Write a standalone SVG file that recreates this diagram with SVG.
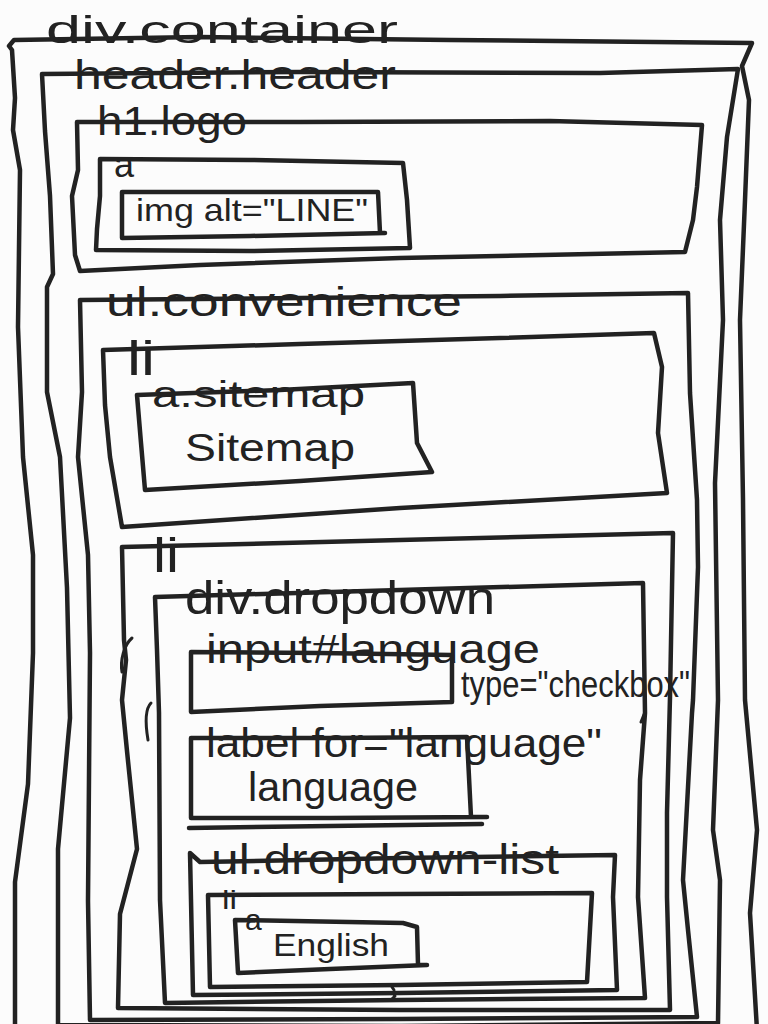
<svg xmlns="http://www.w3.org/2000/svg" width="768" height="1024" viewBox="0 0 768 1024">
  <style>
    .box { fill: none; stroke: #222; stroke-width: 4.5; stroke-linecap: round; stroke-linejoin: round; }
    .mark { fill: none; stroke: #222; stroke-width: 3; stroke-linecap: round; stroke-linejoin: round; }
    .lbl { font-family: "Liberation Sans", "DejaVu Sans", sans-serif; fill: #222; }
  </style>
  <rect x="0" y="0" width="768" height="1024" fill="#fcfcfc"/>

  <!-- div.container -->
  <g id="div-container">
    <path class="box" d="M15,1030 L15,882 L28,784 L33,653 L33,555 L23,457 L18,327 L20,170 L13,130 L15,98 L12,50 L9,46 L14,40 L200,37 L450,40 L752,43 L742,66 L749,100 L745,200 L740,320 L743,500 L745,700 L757,830 L750,913 L757,1030"/>
    <text class="lbl" x="46" y="43" font-size="38" textLength="352" lengthAdjust="spacingAndGlyphs">div.container</text>
  </g>

  <!-- header.header -->
  <g id="header">
    <path class="box" d="M58,1025 L58,849 L70,718 L67,588 L60,457 L47,392 L47,287 L53,274 L50,196 L45,131 L42,74 L300,72 L600,73 L738,69 L727,137 L720,220 L723,320 L715,483 L718,700 L713,830 L720,880 L718,1023 L400,1026 Z"/>
    <text class="lbl" x="74" y="89" font-size="40" textLength="322" lengthAdjust="spacingAndGlyphs">header.header</text>
  </g>

  <!-- h1.logo -->
  <g id="h1-logo">
    <path class="box" d="M77,122 L300,122 L550,121 L702,125 L697,187 L693,220 L685,252 L400,258 L200,265 L80,271 L75,255 L72,196 L78,170 Z"/>
    <text class="lbl" x="97" y="135" font-size="40" textLength="150" lengthAdjust="spacingAndGlyphs">h1.logo</text>
  </g>

  <!-- a (logo link) -->
  <g id="logo-link">
    <path class="box" d="M100,159 L250,160 L403,163 L407,200 L410,248 L250,251 L96,250 L97,229 L100,196 Z"/>
    <text class="lbl" x="114" y="177" font-size="36">a</text>
  </g>

  <!-- img alt="LINE" -->
  <g id="logo-img">
    <path class="box" d="M122,192 L250,192 L378,192 L380,233 L385,233 L250,236 L122,238 Z"/>
    <text class="lbl" x="136" y="221" font-size="32" textLength="232" lengthAdjust="spacingAndGlyphs">img alt="LINE"</text>
  </g>

  <!-- ul.convenience -->
  <g id="ul-convenience">
    <path class="box" d="M90,1020 L88,901 L90,653 L88,555 L78,457 L82,392 L80,300 L300,298 L500,296 L688,293 L690,393 L697,500 L698,567 L693,700 L692,713 L683,880 L688,930 L697,1017 L400,1019 Z"/>
    <text class="lbl" x="106" y="316" font-size="40" textLength="356" lengthAdjust="spacingAndGlyphs">ul.convenience</text>
  </g>

  <!-- li (sitemap) -->
  <g id="li-sitemap">
    <path class="box" d="M103,350 L300,344 L500,338 L654,333 L662,367 L658,433 L667,493 L400,508 L122,527 L110,457 L105,405 Z"/>
    <text class="lbl" x="127" y="375" font-size="48" textLength="28" lengthAdjust="spacingAndGlyphs">li</text>
  </g>

  <!-- a.sitemap -->
  <g id="a-sitemap">
    <path class="box" d="M137,395 L280,390 L413,383 L417,443 L432,472 L300,481 L145,490 L141,443 Z"/>
    <text class="lbl" x="152" y="407" font-size="36" textLength="213" lengthAdjust="spacingAndGlyphs">a.sitemap</text>
    <text class="lbl" x="185" y="461" font-size="38" textLength="170" lengthAdjust="spacingAndGlyphs">Sitemap</text>
  </g>

  <!-- li (language) -->
  <g id="li-language">
    <path class="box" d="M118,1008 L120,914 L137,849 L127,751 L122,700 L126,660 L124,640 L122,547 L400,540 L673,533 L670,697 L667,813 L667,897 L670,1010 L400,1010 Z"/>
    <path class="mark" d="M132,638 C124,645 120,660 122,672"/>
    <text class="lbl" x="153" y="572" font-size="48" textLength="26" lengthAdjust="spacingAndGlyphs">li</text>
  </g>

  <!-- div.dropdown -->
  <g id="div-dropdown">
    <path class="box" d="M165,1003 L160,900 L159,713 L157,650 L155,597 L400,590 L643,583 L645,713 L640,780 L638,897 L645,998 L400,1000 Z"/>
    <path class="mark" d="M151,703 C146,708 145,722 148,740"/>
    <path class="mark" d="M645,712 L641,722"/>
    <text class="lbl" x="185" y="614" font-size="46" textLength="310" lengthAdjust="spacingAndGlyphs">div.dropdown</text>
  </g>

  <!-- input#language -->
  <g id="input-language">
    <path class="box" d="M191,652 L320,653 L452,655 L452,702 L320,706 L191,712 Z"/>
    <text class="lbl" x="206" y="663" font-size="40" textLength="334" lengthAdjust="spacingAndGlyphs">input#language</text>
    <text class="lbl" x="461" y="697" font-size="36" textLength="229" lengthAdjust="spacingAndGlyphs">type="checkbox"</text>
  </g>

  <!-- label for="language" -->
  <g id="label-language">
    <path class="box" d="M191,738 L330,738 L467,737 L471,817 L487,817 L330,818 L191,818 Z"/>
    <path class="box" d="M189,828 L330,826 L482,824"/>
    <text class="lbl" x="206" y="757" font-size="40" textLength="396" lengthAdjust="spacingAndGlyphs">label for="language"</text>
    <text class="lbl" x="248" y="801" font-size="40" textLength="170" lengthAdjust="spacingAndGlyphs">language</text>
  </g>

  <!-- ul.dropdown-list -->
  <g id="ul-dropdown-list">
    <path class="box" d="M190,853 L200,862 L400,858 L615,855 L613,897 L617,990 L400,993 L193,995 Z"/>
    <text class="lbl" x="211" y="874" font-size="42" textLength="348" lengthAdjust="spacingAndGlyphs">ul.dropdown-list</text>
  </g>

  <!-- li (English) -->
  <g id="li-english">
    <path class="box" d="M208,895 L400,894 L592,893 L587,982 L400,985 L210,987 Z"/>
    <text class="lbl" x="222" y="909" font-size="26" textLength="15" lengthAdjust="spacingAndGlyphs">li</text>
    <path class="mark" d="M392,987 L394,990 M393,993 L395,996 L392,999"/>
  </g>

  <!-- a (English) -->
  <g id="a-english">
    <path class="box" d="M235,920 L403,923 L417,927 L418,965 L427,965 L330,969 L238,973 Z"/>
    <text class="lbl" x="245" y="930" font-size="30">a</text>
    <text class="lbl" x="273" y="956" font-size="32" textLength="116" lengthAdjust="spacingAndGlyphs">English</text>
  </g>
</svg>
